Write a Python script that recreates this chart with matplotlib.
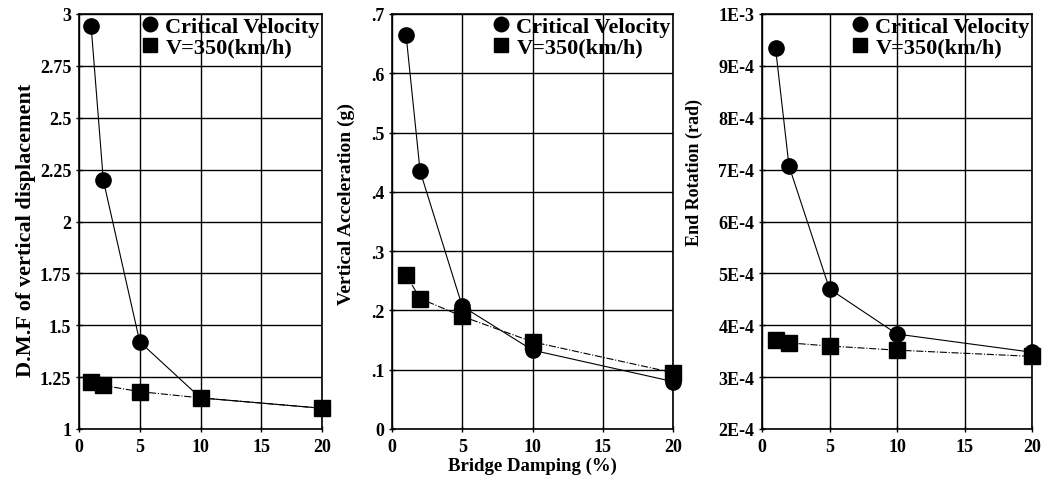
import numpy as np
import matplotlib.pyplot as plt
from matplotlib.ticker import FixedLocator

plt.rcParams['font.family'] = ['Liberation Serif', 'DejaVu Serif']
plt.rcParams['font.weight'] = 'bold'

damping = [1, 2, 5, 10, 20]

dmf_crit = [2.94, 2.20, 1.42, 1.15, 1.10]
dmf_v350 = [1.225, 1.21, 1.18, 1.15, 1.10]

acc_crit = [0.665, 0.435, 0.207, 0.133, 0.080]
acc_v350 = [0.260, 0.220, 0.190, 0.147, 0.095]

rot_crit = [9.35e-4, 7.07e-4, 4.70e-4, 3.83e-4, 3.48e-4]
rot_v350 = [3.72e-4, 3.66e-4, 3.60e-4, 3.52e-4, 3.40e-4]

x_ticks = [0, 5, 10, 15, 20]
dmf_ticks = [1, 1.25, 1.5, 1.75, 2, 2.25, 2.5, 2.75, 3]
dmf_labels = ['1', '1.25', '1.5', '1.75', '2', '2.25', '2.5', '2.75', '3']
acc_ticks = [0, 0.1, 0.2, 0.3, 0.4, 0.5, 0.6, 0.7]
acc_labels = ['0', '.1', '.2', '.3', '.4', '.5', '.6', '.7']
rot_ticks = [2e-4, 3e-4, 4e-4, 5e-4, 6e-4, 7e-4, 8e-4, 9e-4, 1e-3]
rot_labels = ['2E-4', '3E-4', '4E-4', '5E-4', '6E-4', '7E-4', '8E-4', '9E-4', '1E-3']

fig = plt.figure(figsize=(10.45, 4.81), dpi=100)
W, H = 1045, 481
boxes = [(79, 322), (392, 673), (762, 1032)]
top, bottom = 15, 430

# (x centre px, y centre px, font size) for the rotated y labels
ylab_pos = [(26, 230, 16), (346, 204, 14), (694, 173, 13)]

panels = [
    (dmf_crit, dmf_v350, dmf_ticks, dmf_labels, 'D.M.F of vertical displacement', ''),
    (acc_crit, acc_v350, acc_ticks, acc_labels, 'Vertical Acceleration (g)', 'Bridge Damping (%)'),
    (rot_crit, rot_v350, rot_ticks, rot_labels, 'End Rotation (rad)', ''),
]

for (l, r), (yx, yy, yfs), (crit, v350, yt, yl, ylab, xlab) in zip(boxes, ylab_pos, panels):
    ax = fig.add_axes([l / W, 1 - bottom / H, (r - l) / W, (bottom - top) / H])
    ax.plot(damping, crit, color='black', lw=0.8, ls='-', marker='o', ms=11,
            label='Critical Velocity', clip_on=False, zorder=3)
    ax.plot(damping, v350, color='black', lw=0.8, ls='-.', marker='s', ms=11,
            label='V=350(km/h)', clip_on=False, zorder=3)
    ax.set_xlim(0, 20)
    ax.set_ylim(yt[0], yt[-1])
    ax.xaxis.set_major_locator(FixedLocator(x_ticks))
    ax.set_yticks(yt)
    ax.set_yticklabels(yl)
    ax.grid(True, color='black', lw=1.0)
    ax.set_axisbelow(True)
    ax.tick_params(labelsize=13, length=5, direction='inout', width=1, pad=3)
    ax.tick_params(axis='x', pad=4)
    for s in ax.spines.values():
        s.set_linewidth(1.2)
    fig.text(yx / W, 1 - yy / H, ylab, rotation=90, ha='center', va='center',
             fontsize=yfs, fontweight='bold')
    if xlab:
        ax.set_xlabel(xlab, fontsize=13.5, fontweight='bold', labelpad=1)
    ax.legend(loc='upper right', frameon=False, fontsize=16, handlelength=0.6,
              handletextpad=0.4, borderaxespad=0.0, labelspacing=0.0,
              borderpad=0.1, markerscale=0.95)

fig.savefig('out.png', dpi=100)
